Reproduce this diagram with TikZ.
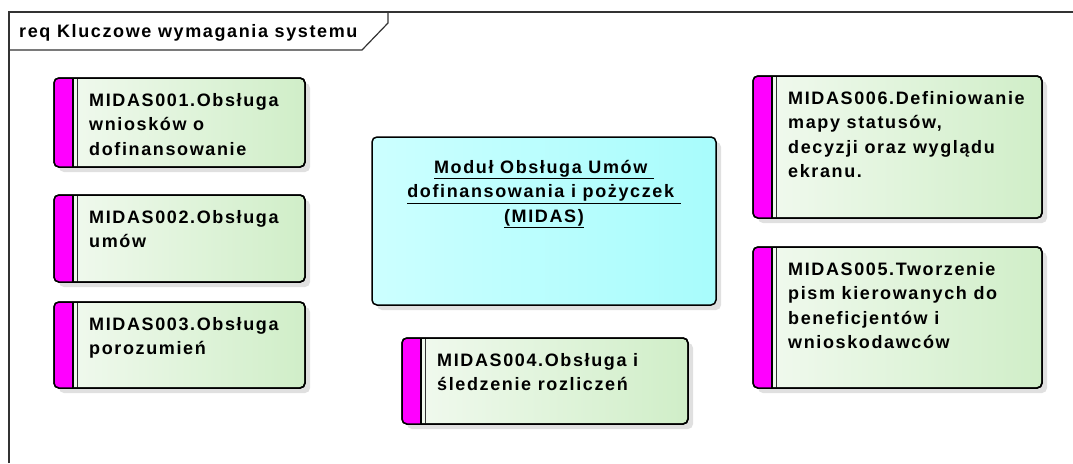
\documentclass[tikz,border=0pt]{standalone}
\usepackage{fontspec}
\newfontfamily\eabold{Liberation Sans Bold}[LetterSpace=9]
\usetikzlibrary{shadows}
\definecolor{reqL}{RGB}{242,250,240}
\definecolor{reqR}{RGB}{208,238,200}
\definecolor{modL}{RGB}{204,255,255}
\definecolor{modR}{RGB}{168,252,252}
\definecolor{stripecol}{RGB}{255,0,255}
\newcommand\topstrut{\rule{0pt}{14pt}}
\tikzset{
  frameline/.style={draw=black!80, line width=1.2pt},
  reqbox/.style={rectangle, rounded corners=5pt, draw=black, line width=1.5pt,
    left color=reqL, right color=reqR, anchor=north west, inner sep=0pt, outer sep=0pt,
    drop shadow={shadow xshift=5pt, shadow yshift=-5pt, fill=black!12, opacity=1}},
  modbox/.style={reqbox, left color=modL, right color=modR},
  reqtext/.style={anchor=north west, inner sep=0pt, align=left, font=\eabold\fontsize{18}{24.5}\selectfont},
  modtext/.style={anchor=north, inner sep=0pt, align=center, font=\eabold\fontsize{18}{24.5}\selectfont},
  titletext/.style={anchor=base west, inner sep=0pt, font=\eabold\fontsize{18}{20}\selectfont},
  stripefill/.style={fill=stripecol}
}
\newcommand\reqbox[6]{%
  \node[reqbox, minimum width=#4pt, minimum height=#5pt] (#1) at (#2,#3) {};
  \begin{scope}
    \clip[rounded corners=5pt] (#1.north west) rectangle (#1.south east);
    \fill[stripefill] (#1.north west) rectangle ([xshift=19pt]#1.south west);
  \end{scope}
  \draw[line width=1.5pt] ([xshift=19pt]#1.north west) -- ([xshift=19pt]#1.south west);
  \draw[line width=1pt, draw=black!80] ([xshift=23pt]#1.north west) -- ([xshift=23pt]#1.south west);
  \draw[line width=1.5pt, rounded corners=5pt] (#1.north west) rectangle (#1.south east);
  \node[reqtext] (#1t) at ([xshift=35pt,yshift=-14pt]#1.north west) {\topstrut #6};
}
\begin{document}
\begin{tikzpicture}[x=1pt,y=-1pt]
\useasboundingbox[fill=white] (0,0) rectangle (1073,463);
% frame
\draw[frameline] (9,463) -- (9,12) -- (1073,12);
\draw[frameline] (9,50) -- (362,50) -- (388,23) -- (388,12);
\node[titletext] (title) at (19,37) {req Kluczowe wymagania systemu};
% requirement boxes
\reqbox{r1}{54}{78}{251}{89}{MIDAS001.Obsługa\\wniosków o\\dofinansowanie}
\reqbox{r2}{54}{195}{251}{87}{MIDAS002.Obsługa\\umów}
\reqbox{r3}{54}{302}{251}{86}{MIDAS003.Obsługa\\porozumień}
\reqbox{r4}{402}{338}{286}{86}{MIDAS004.Obsługa i\\śledzenie rozliczeń}
\reqbox{r6}{753}{76}{289}{142}{MIDAS006.Definiowanie\\mapy statusów,\\decyzji oraz wyglądu\\ekranu.}
\reqbox{r5}{753}{247}{289}{141}{MIDAS005.Tworzenie\\pism kierowanych do\\beneficjentów i\\wnioskodawców}
% module
\node[modbox, minimum width=344pt, minimum height=168pt] (mod) at (372,137) {};
\node[modtext] (modt) at (544,159) {\topstrut\underline{Moduł Obsługa Umów\ }\\\underline{dofinansowania i pożyczek\ }\\\underline{(MIDAS)}};
\end{tikzpicture}
\end{document}
